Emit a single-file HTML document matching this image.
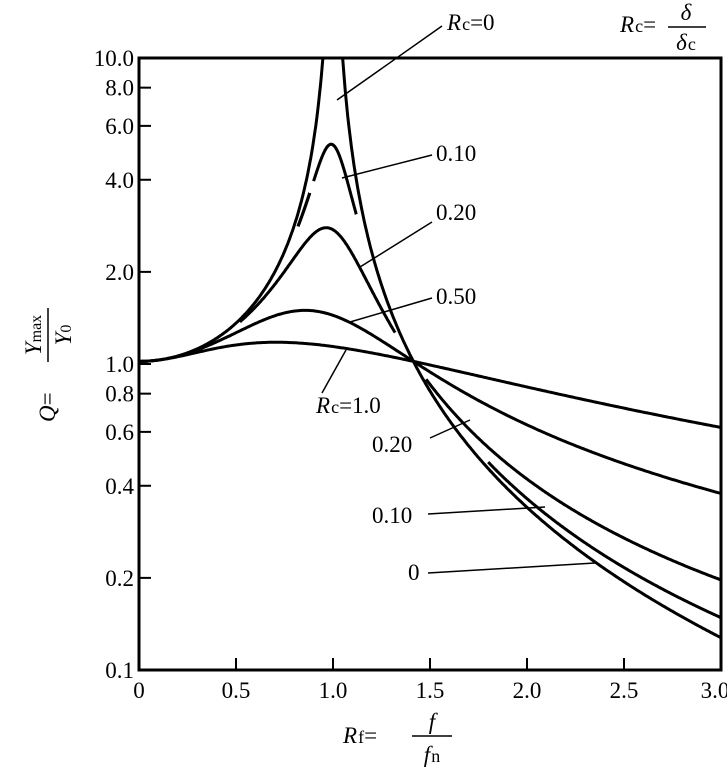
<!DOCTYPE html>
<html><head><meta charset="utf-8"><style>
body{margin:0;background:#fff}
svg{display:block}
text{font-family:"Liberation Serif",serif;fill:#000}
</style></head><body>
<svg id="s" width="727" height="779" viewBox="0 0 727 779" xmlns="http://www.w3.org/2000/svg">
<rect x="139" y="58" width="582" height="612" fill="none" stroke="#000" stroke-width="3"/>
<g id="ticks" stroke="#000" stroke-width="2"></g>
<g id="curves" fill="none" stroke="#000" stroke-width="3"></g>
<g font-size="23" text-anchor="end" id="yl"></g>
<g font-size="23" text-anchor="middle" id="xl"></g>
<g stroke="#000" stroke-width="1.5">
<line x1="442" y1="26" x2="337" y2="100"/>
<line x1="432" y1="155" x2="342" y2="178"/>
<line x1="432" y1="222" x2="360" y2="267"/>
<line x1="432" y1="298" x2="350" y2="322"/>
<line x1="322" y1="393" x2="346" y2="350"/>
<line x1="430" y1="438" x2="470" y2="420"/>
<line x1="428" y1="514" x2="545" y2="507"/>
<line x1="428" y1="573" x2="595" y2="563"/>
</g>
<g font-size="23">
<text x="447" y="30"><tspan font-style="italic">R</tspan><tspan font-size="18" dx="1">c</tspan>=0</text>
<text x="436" y="161">0.10</text>
<text x="436" y="220">0.20</text>
<text x="436" y="304">0.50</text>
<text x="316" y="413"><tspan font-style="italic">R</tspan><tspan font-size="18" dx="1">c</tspan>=1.0</text>
<text x="372" y="452">0.20</text>
<text x="372" y="523">0.10</text>
<text x="408" y="580">0</text>
<text x="620" y="32"><tspan font-style="italic">R</tspan><tspan font-size="18" dx="1">c</tspan>=</text>
<text x="686" y="20" text-anchor="middle" font-style="italic">δ</text>
<line x1="668" y1="27" x2="706" y2="27" stroke="#000" stroke-width="1.5"/>
<text x="686" y="50" text-anchor="middle"><tspan font-style="italic">δ</tspan><tspan font-size="18" dx="1">c</tspan></text>
<text x="343" y="743"><tspan font-style="italic">R</tspan><tspan font-size="18" dx="1">f</tspan>=</text>
<text x="432" y="729" text-anchor="middle" font-style="italic">f</text>
<line x1="412" y1="736" x2="452" y2="736" stroke="#000" stroke-width="1.5"/>
<text x="432" y="762" text-anchor="middle"><tspan font-style="italic">f</tspan><tspan font-size="18" dx="1">n</tspan></text>
<g transform="translate(45,350) rotate(-90)">
<text x="-72" y="10"><tspan font-style="italic">Q</tspan>=</text>
<text x="15" y="-4" text-anchor="middle"><tspan font-style="italic">Y</tspan><tspan font-size="16">max</tspan></text>
<line x1="-12" y1="3" x2="42" y2="3" stroke="#000" stroke-width="1.5"/>
<text x="15" y="26" text-anchor="middle"><tspan font-style="italic">Y</tspan><tspan font-size="16">0</tspan></text>
</g>
</g>
</svg>
<script>
const X=r=>139+r*194, Y=q=>364-Math.log10(q)*306;
const ns="http://www.w3.org/2000/svg";
function el(p,t,a,txt){const e=document.createElementNS(ns,t);for(const k in a)e.setAttribute(k,a[k]);if(txt!=null)e.textContent=txt;document.getElementById(p).appendChild(e);}
[10,8,6,4,2,1,0.8,0.6,0.4,0.2,0.1].forEach(v=>{const y=Y(v);
 if(v!=10&&v!=0.1)el("ticks","line",{x1:139,y1:y,x2:151,y2:y});
 el("yl","text",{x:134,y:y+8},v.toFixed(1));});
[0,0.5,1,1.5,2,2.5,3].forEach(v=>{const x=X(v);
 if(v>0&&v<3)el("ticks","line",{x1:x,y1:670,x2:x,y2:658});
 el("xl","text",{x:v==3?x-6:x,y:698},v==0?"0":v.toFixed(1));});
function Q(r,z){return 1.02*Math.sqrt((1+(2*z*r)**2)/((1-r*r)**2+(2*z*r)**2));}
function seg(z,a,b){let d="";for(let i=0;i<=300;i++){const r=a+(b-a)*i/300;let q=Q(r,z);if(q>10)q=10;d+=(i?"L":"M")+X(r).toFixed(1)+" "+Y(q).toFixed(1);}el("curves","path",{d});}
seg(0,0,0.948);seg(0,1.05,3);
seg(0.1,0.82,0.88);seg(0.1,0.9,1.12);seg(0.1,1.8,3);
seg(0.2,0.52,1.32);seg(0.2,1.48,3);
seg(0.5,0,3);seg(1,0,3);
</script>
</body></html>
